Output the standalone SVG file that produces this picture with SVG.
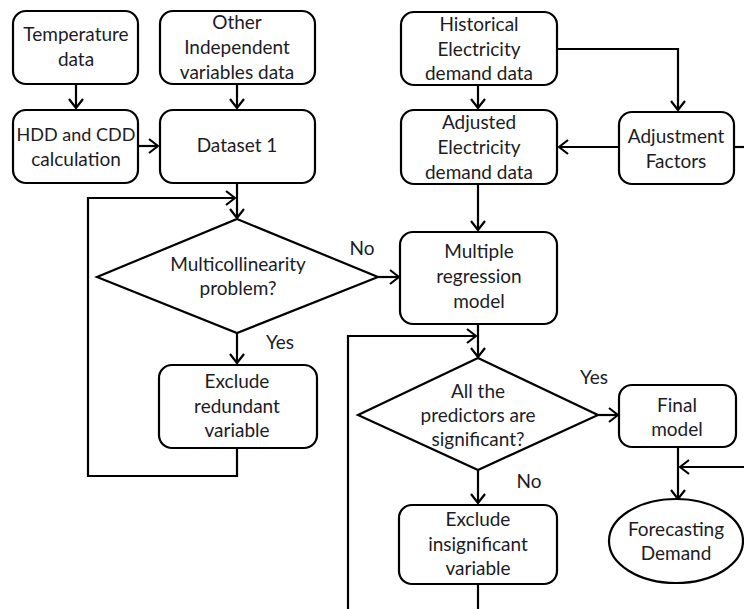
<svg xmlns="http://www.w3.org/2000/svg" width="744" height="609" viewBox="0 0 744 609">
<style>
.n{fill:#fff;stroke:#000;stroke-width:2.2}
.t{font-family:Lato,"Liberation Sans",sans-serif;font-size:19px;fill:#1c1c24;text-anchor:middle}
.c{fill:none;stroke:#000;stroke-width:2.2}
</style>
<defs>
<marker id="a" markerUnits="userSpaceOnUse" markerWidth="16" markerHeight="16" viewBox="0 0 16 16" refX="15" refY="8" orient="auto">
<path d="M6,1 L15,8 L6,15" fill="none" stroke="#000" stroke-width="2.2"/>
</marker>
</defs>
<rect width="744" height="609" fill="#fff"/>
<g id="connectors">
<path class="c" d="M76,84 V108" marker-end="url(#a)"/>
<path class="c" d="M237,84 V108" marker-end="url(#a)"/>
<path class="c" d="M138,146 H158" marker-end="url(#a)"/>
<path class="c" d="M478,85 V108" marker-end="url(#a)"/>
<path class="c" d="M557,49 H678 V110" marker-end="url(#a)"/>
<path class="c" d="M619,147 H559" marker-end="url(#a)"/>
<path class="c" d="M734,147 H744"/>
<path class="c" d="M237,183 V218" marker-end="url(#a)"/>
<path class="c" d="M237,448 V476 H88 V198 H235" marker-end="url(#a)"/>
<path class="c" d="M237,333 V363" marker-end="url(#a)"/>
<path class="c" d="M378,277 H399" marker-end="url(#a)"/>
<path class="c" d="M478,184 V230" marker-end="url(#a)"/>
<path class="c" d="M478,324 V357" marker-end="url(#a)"/>
<path class="c" d="M348,609 V336 H476" marker-end="url(#a)"/>
<path class="c" d="M598,415 H618" marker-end="url(#a)"/>
<path class="c" d="M478,470 V503" marker-end="url(#a)"/>
<path class="c" d="M478,584 V609"/>
<path class="c" d="M678,447 V499" marker-end="url(#a)"/>
<path class="c" d="M744,467 H680" marker-end="url(#a)"/>
</g>
<g id="temperature">
<rect class="n" x="13" y="11" width="125" height="73" rx="13"/>
<text class="t" x="76" y="41">Temperature</text>
<text class="t" x="76" y="66">data</text>
</g>
<g id="other">
<rect class="n" x="160" y="11" width="155" height="73" rx="13"/>
<text class="t" x="237" y="29">Other</text>
<text class="t" x="237" y="54">Independent</text>
<text class="t" x="237" y="79">variables data</text>
</g>
<g id="hdd">
<rect class="n" x="13" y="110" width="125" height="73" rx="13"/>
<text class="t" x="76" y="141" style="font-size:18px">HDD and CDD</text>
<text class="t" x="76" y="166">calculation</text>
</g>
<g id="dataset1">
<rect class="n" x="160" y="110" width="155" height="73" rx="13"/>
<text class="t" x="237" y="152">Dataset 1</text>
</g>
<g id="historical">
<rect class="n" x="401" y="12" width="156" height="73" rx="13"/>
<text class="t" x="479" y="31">Historical</text>
<text class="t" x="479" y="56">Electricity</text>
<text class="t" x="479" y="80">demand data</text>
</g>
<g id="adjusted">
<rect class="n" x="401" y="110" width="156" height="74" rx="13"/>
<text class="t" x="479" y="129">Adjusted</text>
<text class="t" x="479" y="154">Electricity</text>
<text class="t" x="479" y="179">demand data</text>
</g>
<g id="factors">
<rect class="n" x="619" y="112" width="115" height="72" rx="13"/>
<text class="t" x="676" y="143">Adjustment</text>
<text class="t" x="676" y="168">Factors</text>
</g>
<g id="multicollinearity">
<polygon class="n" points="237,219 378,277 237,333 97,277"/>
<text class="t" x="238" y="271">Multicollinearity</text>
<text class="t" x="238" y="295">problem?</text>
</g>
<g id="exclude-redundant">
<rect class="n" x="159" y="365" width="158" height="83" rx="13"/>
<text class="t" x="237" y="388">Exclude</text>
<text class="t" x="237" y="413">redundant</text>
<text class="t" x="237" y="437">variable</text>
</g>
<g id="regression">
<rect class="n" x="400" y="232" width="157" height="92" rx="13"/>
<text class="t" x="479" y="258">Multiple</text>
<text class="t" x="479" y="283">regression</text>
<text class="t" x="479" y="308">model</text>
</g>
<g id="significant">
<polygon class="n" points="478,358 598,415 478,470 358,415"/>
<text class="t" x="478" y="398">All the</text>
<text class="t" x="478" y="422">predictors are</text>
<text class="t" x="478" y="446">significant?</text>
</g>
<g id="final">
<rect class="n" x="619" y="385" width="117" height="62" rx="13"/>
<text class="t" x="677" y="412">Final</text>
<text class="t" x="677" y="436">model</text>
</g>
<g id="exclude-insignificant">
<rect class="n" x="399" y="505" width="158" height="79" rx="13"/>
<text class="t" x="478" y="526">Exclude</text>
<text class="t" x="478" y="551">insignificant</text>
<text class="t" x="478" y="575">variable</text>
</g>
<g id="forecasting">
<ellipse class="n" cx="676" cy="541" rx="67" ry="42"/>
<text class="t" x="676" y="536">Forecasting</text>
<text class="t" x="676" y="560">Demand</text>
</g>
<g id="labels">
<text class="t" x="362" y="255">No</text>
<text class="t" x="280" y="349">Yes</text>
<text class="t" x="594" y="384">Yes</text>
<text class="t" x="529" y="488">No</text>
</g>
</svg>
